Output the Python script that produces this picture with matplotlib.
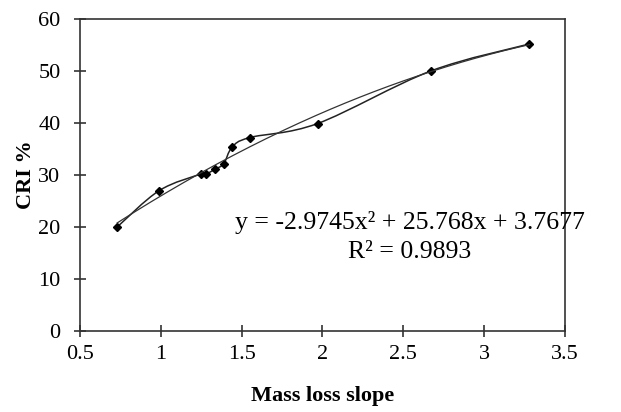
import matplotlib

matplotlib.use("Agg")

import matplotlib.pyplot as plt
import numpy as np
from matplotlib.path import Path
from matplotlib.patches import PathPatch

plt.rcParams["font.family"] = ["Liberation Serif", "DejaVu Serif"]

mass_loss_slope = [0.73, 0.99, 1.25, 1.28, 1.335, 1.39, 1.44, 1.55, 1.97, 2.67, 3.28]
cri_percent = [20.0, 27.0, 30.2, 30.2, 31.1, 32.2, 35.3, 37.2, 39.9, 50.0, 55.2]
equation_label = "y = -2.9745x² + 25.768x + 3.7677"
r_squared_label = "R² = 0.9893"


def smooth_path(xs, ys, tension=1 / 6):
    # Excel-style smoothed line: cubic Bezier segments through every point
    pts = np.column_stack([xs, ys])
    verts = [tuple(pts[0])]
    codes = [Path.MOVETO]
    n = len(pts)
    for i in range(n - 1):
        p0 = pts[i - 1] if i > 0 else pts[i]
        p1 = pts[i]
        p2 = pts[i + 1]
        p3 = pts[i + 2] if i + 2 < n else pts[i + 1]
        c1 = p1 + (p2 - p0) * tension
        c2 = p2 - (p3 - p1) * tension
        verts += [tuple(c1), tuple(c2), tuple(p2)]
        codes += [Path.CURVE4] * 3
    return Path(verts, codes)


fig = plt.figure(figsize=(6.21, 4.12), dpi=100)
ax = fig.add_axes([0.1288, 0.1966, 0.781, 0.7573])

ax.add_patch(PathPatch(smooth_path(mass_loss_slope, cri_percent), facecolor="none",
                       edgecolor="#222222", linewidth=1.1))
ax.plot(mass_loss_slope, cri_percent, linestyle="none", marker="D", markersize=4.5,
        color="black")

# polynomial trendline (order 2) through the plotted points
coeffs = np.polyfit(mass_loss_slope, cri_percent, 2)
fit_x = np.linspace(min(mass_loss_slope), max(mass_loss_slope), 200)
ax.plot(fit_x, np.polyval(coeffs, fit_x), color="#333333", linewidth=0.9)

ax.text(2.54, 20.8, equation_label, fontsize=18.5, ha="center", va="center", clip_on=False)
ax.text(2.54, 15.2, r_squared_label, fontsize=18.5, ha="center", va="center")

ax.set_xlim(0.5, 3.5)
ax.set_ylim(0, 60)
ax.set_xticks([0.5, 1, 1.5, 2, 2.5, 3, 3.5])
ax.set_xticklabels(["0.5", "1", "1.5", "2", "2.5", "3", "3.5"])
ax.set_yticks(range(0, 61, 10))
ax.tick_params(direction="inout", length=8, width=1.2, labelsize=16, color="#333333")
ax.tick_params(axis="x", pad=6)
ax.tick_params(axis="y", pad=10)
for spine in ax.spines.values():
    spine.set_linewidth(1.2)
    spine.set_color("#333333")

ax.set_xlabel("Mass loss slope", fontsize=16, fontweight="bold", labelpad=16)
ax.set_ylabel("CRI %", fontsize=16, fontweight="bold", labelpad=2)

fig.savefig("out.png", dpi=100)
